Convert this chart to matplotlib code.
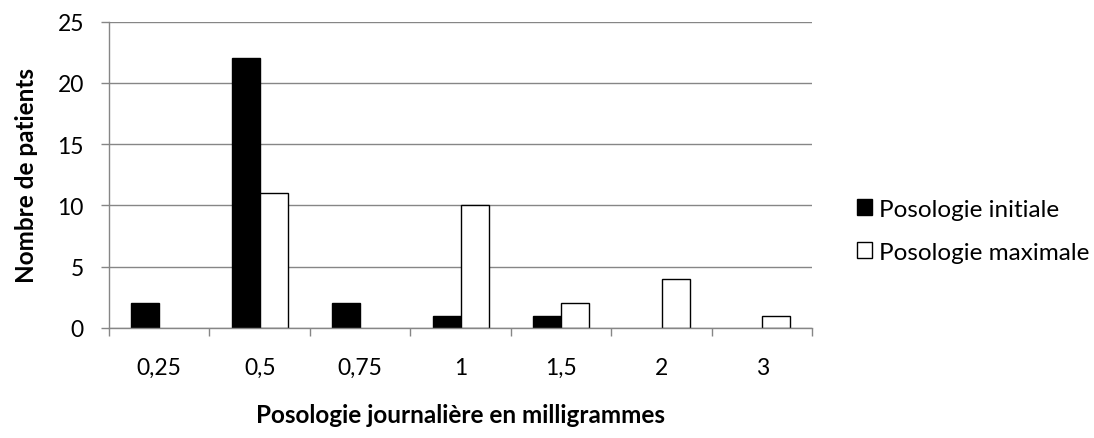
import numpy as np
import matplotlib
matplotlib.use('Agg')
import matplotlib.pyplot as plt
from matplotlib.patches import Patch

plt.rcParams['font.family'] = ['Lato', 'DejaVu Sans']

# data
doses = ['0,25', '0,5', '0,75', '1', '1,5', '2', '3']
initiale = [2, 22, 2, 1, 1, 0, 0]
maximale = [0, 11, 0, 10, 2, 4, 1]

grey = '#868686'

fig = plt.figure(figsize=(10.94, 4.39), dpi=100)
ax = fig.add_axes([0.0996, 0.2506, 0.6430, 0.6977])

x = np.arange(len(doses))
w = 0.28
# no outline for empty bars
lw_i = [1.0 if v else 0 for v in initiale]
lw_m = [1.0 if v else 0 for v in maximale]
ax.bar(x - w / 2, initiale, w, color='black', edgecolor='black', linewidth=lw_i)
ax.bar(x + w / 2, maximale, w, color='white', edgecolor='black', linewidth=lw_m)

ax.set_xlim(-0.5, len(doses) - 0.5)
ax.set_ylim(0, 25)
ax.set_yticks(range(0, 26, 5))
ax.yaxis.grid(True, color=grey, linewidth=1.0)
ax.set_axisbelow(True)

# labels at category centres, tick marks at the boundaries
ax.set_xticks(x)
ax.set_xticklabels(doses)
ax.set_xticks(np.arange(-0.5, len(doses), 1.0), minor=True)
ax.tick_params(axis='x', which='major', length=0, pad=21, labelsize=16.5)
ax.tick_params(axis='x', which='minor', length=6, color=grey, width=1.0)
ax.tick_params(axis='y', length=6, color=grey, width=1.0, labelsize=16.5, pad=12)

for s in ['top', 'right']:
    ax.spines[s].set_visible(False)
for s in ['left', 'bottom']:
    ax.spines[s].set_color(grey)
    ax.spines[s].set_linewidth(1.0)

ax.set_xlabel('Posologie journalière en milligrammes', fontsize=17.5,
              fontweight='bold', labelpad=18)
ax.set_ylabel('Nombre de patients', fontsize=17.5, fontweight='bold', labelpad=14)

handles = [Patch(facecolor='black', edgecolor='black'),
           Patch(facecolor='white', edgecolor='black')]
fig.legend(handles, ['Posologie initiale', 'Posologie maximale'],
           loc='center left', bbox_to_anchor=(0.783, 0.472), frameon=False,
           fontsize=17.5, handlelength=0.64, handleheight=0.64,
           handletextpad=0.28, labelspacing=0.9, borderpad=0, borderaxespad=0)

fig.savefig('out.png', dpi=100)
